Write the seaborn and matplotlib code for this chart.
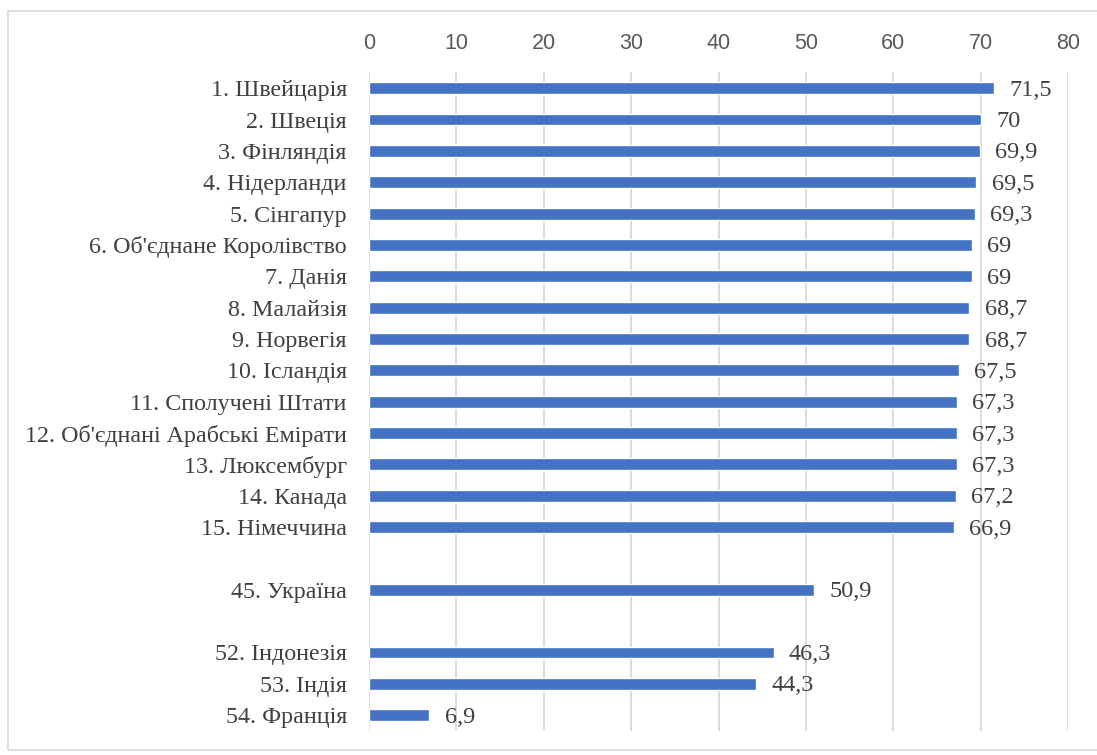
import pandas as pd
import matplotlib.pyplot as plt
import seaborn as sns
from matplotlib.patches import Rectangle

countries = [
    "1. Швейцарія", "2. Швеція", "3. Фінляндія", "4. Нідерланди", "5. Сінгапур",
    "6. Об'єднане Королівство", "7. Данія", "8. Малайзія", "9. Норвегія",
    "10. Ісландія", "11. Сполучені Штати", "12. Об'єднані Арабські Емірати",
    "13. Люксембург", "14. Канада", "15. Німеччина",
    "45. Україна", "52. Індонезія", "53. Індія", "54. Франція",
]
scores = [71.5, 70, 69.9, 69.5, 69.3, 69, 69, 68.7, 68.7, 67.5, 67.3, 67.3,
          67.3, 67.2, 66.9, 50.9, 46.3, 44.3, 6.9]
# empty rows between groups
order = countries[:15] + [" "] + countries[15:16] + ["  "] + countries[16:]
ticks = [0, 10, 20, 30, 40, 50, 60, 70, 80]

df = pd.DataFrame({"country": countries, "score": scores})

sns.set_style("white")
plt.rcParams["font.family"] = ["Liberation Serif", "DejaVu Serif"]

fig = plt.figure(figsize=(10.97, 7.55), dpi=100)
ax = fig.add_axes([0.3364, 0.032, 0.6372, 0.872])

sns.barplot(data=df, x="score", y="country", order=order, color="#4472C4",
            width=0.38, saturation=1, ax=ax)

labels = [f"{v:g}".replace(".", ",") for v in scores]
texts = ax.bar_label(ax.containers[0], labels=labels, padding=11, fontsize=17.5,
                     color="#404040")
for t in texts:
    t.xyann = (11, -1.5)

ax.set_xlim(0, 80)
ax.set_xticks(ticks)
ax.xaxis.tick_top()
ax.tick_params(axis="x", length=0, pad=13, labelsize=15.5, colors="#595959")
for t in ax.get_xticklabels():
    t.set_fontfamily("Liberation Sans")
ax.tick_params(axis="y", length=0, pad=16, labelsize=17.3, colors="#404040")
ax.set_xlabel("")
ax.set_ylabel("")
ax.grid(axis="x", color="#D9D9D9", linewidth=1.3)
ax.set_axisbelow(True)
for s in ax.spines.values():
    s.set_visible(False)

fig.patches.append(Rectangle((0.0075, 0.006), 0.995, 0.98, transform=fig.transFigure,
                             fill=False, edgecolor="#D9D9D9", linewidth=1.2))

fig.savefig("out.png", dpi=100)
